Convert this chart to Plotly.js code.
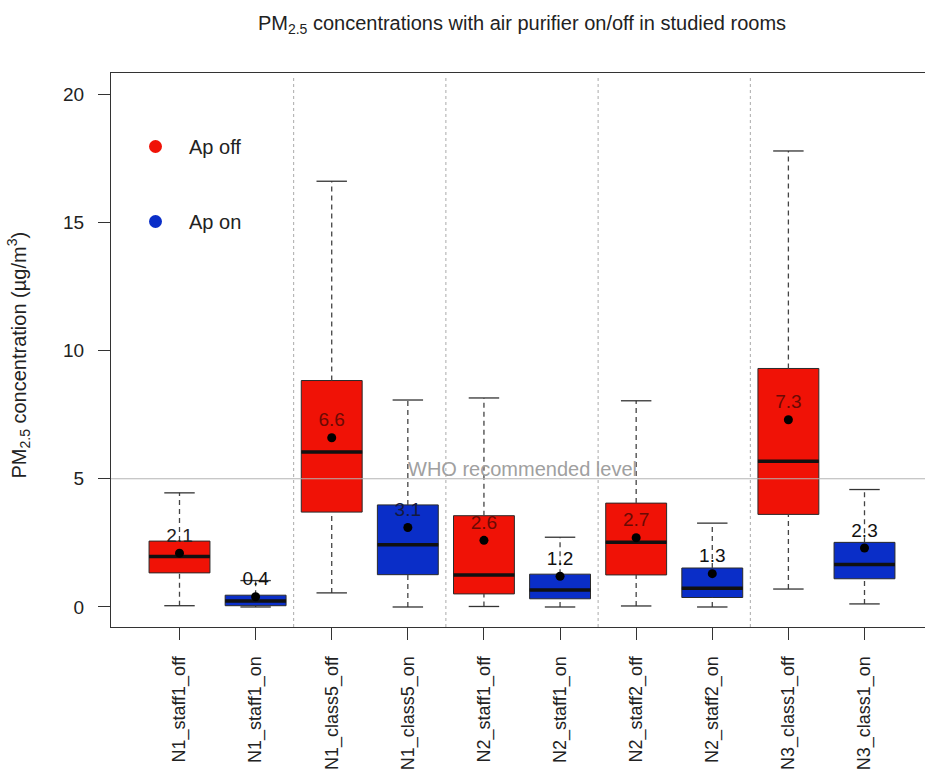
<!DOCTYPE html>
<html>
<head>
<meta charset="utf-8">
<script src="https://cdn.plot.ly/plotly-3.0.1.min.js"></script>
<style>html,body{margin:0;padding:0;overflow:hidden;background:#fff}</style>
</head>
<body>
<div id="chart"></div>
<script>
// ---- data ----
const categories = ["N1_staff1_off","N1_staff1_on","N1_class5_off","N1_class5_on","N2_staff1_off","N2_staff1_on","N2_staff2_off","N2_staff2_on","N3_class1_off","N3_class1_on"];
const status = ["off","on","off","on","off","on","off","on","off","on"];
const whiskerLow = [0.05, 0.0, 0.55, 0.0, 0.02, 0.0, 0.04, 0.0, 0.70, 0.12];
const q1 =        [1.33, 0.05, 3.70, 1.26, 0.51, 0.32, 1.25, 0.37, 3.61, 1.10];
const median =    [1.97, 0.23, 6.04, 2.43, 1.25, 0.66, 2.52, 0.73, 5.68, 1.66];
const q3 =        [2.57, 0.46, 8.83, 3.98, 3.56, 1.28, 4.05, 1.52, 9.30, 2.52];
const whiskerHigh = [4.45, 1.03, 16.6, 8.07, 8.15, 2.72, 8.04, 3.27, 17.78, 4.58];
const means =     [2.1, 0.4, 6.6, 3.1, 2.6, 1.2, 2.7, 1.3, 7.3, 2.3];
const whoLevel = 5;
const groupSeparators = [1.5, 3.5, 5.5, 7.5];
const yTicks = [0, 5, 10, 15, 20];

// ---- style ----
const RED = "#f01206", BLUE = "#0a2ec8";
const FONT = "Liberation Sans, Arial, sans-serif";
const pos = categories.map((c, i) => i);

function pick(arr, st) { return arr.filter((v, i) => status[i] === st); }

const traces = [];
["off", "on"].forEach(st => {
  traces.push({
    type: "box",
    x: pick(pos, st),
    q1: pick(q1, st), median: pick(median, st), q3: pick(q3, st),
    lowerfence: pick(q1, st), upperfence: pick(q3, st),
    width: 0.8, whiskerwidth: 0,
    fillcolor: st === "off" ? RED : BLUE,
    line: {color: "#2a2a2a", width: 1},
    showlegend: false, hoverinfo: "skip"
  });
});

// dashed whiskers
const wx = [], wy = [];
pos.forEach(i => {
  wx.push(i, i, null, i, i, null);
  wy.push(q3[i], whiskerHigh[i], null, whiskerLow[i], q1[i], null);
});
traces.push({type: "scatter", mode: "lines", x: wx, y: wy,
  line: {color: "#444", width: 1.3, dash: "5px,4px"}, showlegend: false, hoverinfo: "skip"});

// caps
const cx = [], cy = [];
pos.forEach(i => {
  cx.push(i - 0.2, i + 0.2, null, i - 0.2, i + 0.2, null);
  cy.push(whiskerHigh[i], whiskerHigh[i], null, whiskerLow[i], whiskerLow[i], null);
});
traces.push({type: "scatter", mode: "lines", x: cx, y: cy,
  line: {color: "#333", width: 1.3}, showlegend: false, hoverinfo: "skip"});

// medians
const mx = [], my = [];
pos.forEach(i => { mx.push(i - 0.4, i + 0.4, null); my.push(median[i], median[i], null); });
traces.push({type: "scatter", mode: "lines", x: mx, y: my,
  line: {color: "#111", width: 3.5}, showlegend: false, hoverinfo: "skip"});

// means with labels
traces.push({type: "scatter", mode: "markers+text", x: pos, y: means,
  text: means.map(v => v.toFixed(1)), textposition: "top center",
  textfont: {family: FONT, size: 19, color: means.map((v, i) => status[i] === "off" ? (i === 0 ? "#222" : "#6a0a04") : (i === 3 ? "#141a40" : "#111"))},
  marker: {color: "#000", size: 9}, showlegend: false, hoverinfo: "skip"});

// legend entries
traces.push({type: "scatter", mode: "markers", x: [null], y: [null], name: "Ap off",
  legendgroup: "a", marker: {color: RED, size: 13}});
traces.push({type: "scatter", mode: "markers", x: [null], y: [null], name: "Ap on",
  legendgroup: "b", marker: {color: BLUE, size: 13}});

const shapes = [{type: "line", xref: "paper", x0: 0, x1: 1, yref: "y", y0: whoLevel, y1: whoLevel,
  line: {color: "#b4b4b4", width: 1}}];
groupSeparators.forEach(s => shapes.push({type: "line", xref: "x", x0: s, x1: s, yref: "paper", y0: 0, y1: 0.992,
  line: {color: "#aaa", width: 1, dash: "dot"}}));

const layout = {
  width: 940, height: 776,
  margin: {l: 111, r: 7, t: 73, b: 149},
  paper_bgcolor: "#fff", plot_bgcolor: "#fff",
  font: {family: FONT, size: 18, color: "#222"},
  title: {text: "PM<sub>2.5</sub> concentrations with air purifier on/off in studied rooms",
    font: {family: FONT, size: 20, color: "#222"}, x: 0.5, xref: "paper",
    y: 1 - 23 / 776, yref: "container", yanchor: "middle"},
  boxmode: "overlay",
  xaxis: {range: [-0.9, 9.9], tickmode: "array", tickvals: pos, ticktext: categories,
    tickangle: -90, ticks: "outside", ticklen: 12, tickcolor: "#333", showgrid: false, zeroline: false,
    showline: true, mirror: true, linecolor: "#333", linewidth: 1, automargin: false,
    ticklabelstandoff: 9,
    tickfont: {family: FONT, size: 18, color: "#222"}, fixedrange: true},
  yaxis: {range: [-0.78, 20.82], tickmode: "array", tickvals: yTicks, ticks: "outside", ticklen: 12,
    tickcolor: "#333", showgrid: false, zeroline: false, showline: true, mirror: true,
    linecolor: "#333", linewidth: 1, automargin: false, ticklabelstandoff: 10,
    tickfont: {family: FONT, size: 19, color: "#222"},
    fixedrange: true},
  shapes: shapes,
  annotations: [
    {x: 4.5, y: whoLevel, xref: "x", yref: "y", text: "WHO recommended level",
      showarrow: false, yanchor: "bottom", yshift: -3, font: {family: FONT, size: 20, color: "#a0a0a0"}},
    {x: (19 - 111) / 822, y: 0.49, xref: "paper", yref: "paper", xanchor: "center", yanchor: "middle",
      textangle: -90, showarrow: false, text: "PM<sub>2.5</sub> concentration (µg/m<sup>3</sup>)",
      font: {family: FONT, size: 20, color: "#222"}}
  ],
  legend: {x: (122 - 111) / 822, y: 1 - (127 - 73) / 554, xanchor: "left", yanchor: "top",
    bgcolor: "rgba(0,0,0,0)", traceorder: "grouped", tracegroupgap: 46, itemwidth: 57,
    font: {family: FONT, size: 20, color: "#222"}},
  hovermode: false
};

Plotly.newPlot("chart", traces, layout, {displayModeBar: false, staticPlot: true});
</script>
</body>
</html>
